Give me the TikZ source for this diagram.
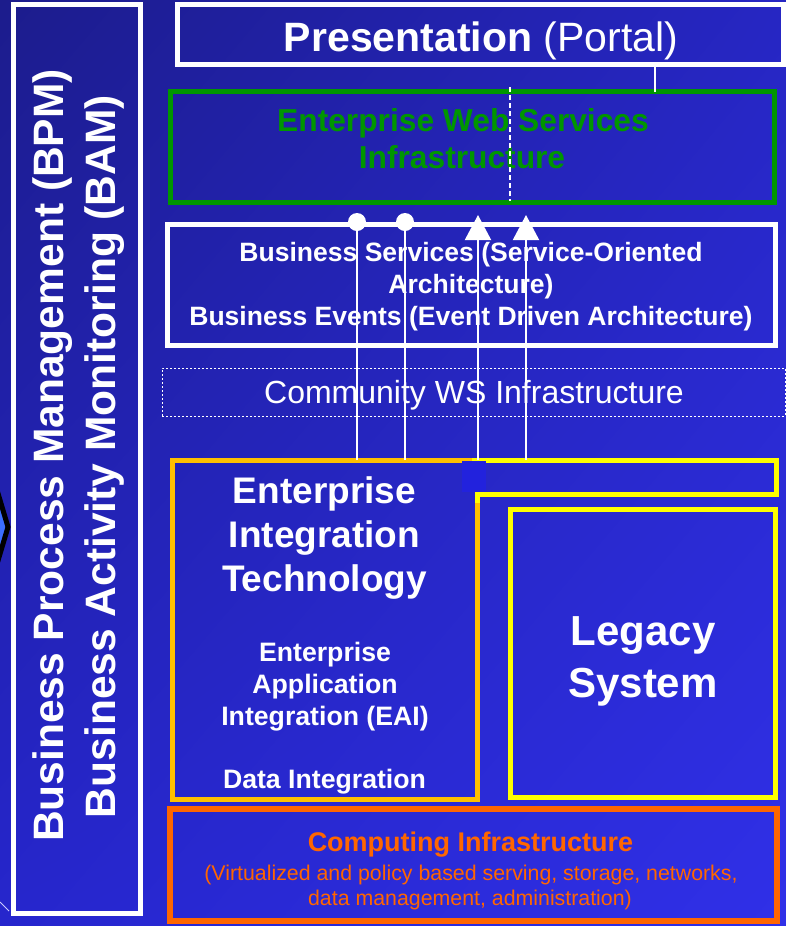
\documentclass[tikz,border=0pt]{standalone}
\usepackage{fontspec}
\setmainfont{Liberation Sans}
\usetikzlibrary{arrows.meta,shadings}
\definecolor{bgUL}{RGB}{28,28,140}
\definecolor{bgUR}{RGB}{38,38,195}
\definecolor{bgLL}{RGB}{38,38,205}
\definecolor{bgLR}{RGB}{48,48,232}
\definecolor{ewsgreen}{RGB}{0,150,0}
\definecolor{eitorange}{RGB}{255,192,0}
\definecolor{legyellow}{RGB}{255,255,0}
\definecolor{comporange}{RGB}{255,102,0}
\definecolor{sqblue}{RGB}{34,34,221}
\definecolor{chevblue}{RGB}{60,110,255}
\tikzset{
  bx/.style={rectangle, inner sep=0pt, outer sep=0pt, line width=3.75pt},
  txt/.style={anchor=base, inner sep=0pt, outer sep=0pt},
  conn/.style={draw=white, line width=1.5pt},
  dotn/.style={circle, fill=white, draw=none, minimum size=13.5pt, inner sep=0pt},
}
\begin{document}
\begin{tikzpicture}[x=0.75pt,y=-0.75pt]
% background
\shade[upper left=bgUL, upper right=bgUR, lower left=bgLL, lower right=bgLR] (0,0) rectangle (786,926);
\useasboundingbox (0,0) rectangle (786,926);

% partial chevron at the left edge
\draw[line width=3.75pt, fill=chevblue, line join=miter] (-30,490) -- (-3,490) -- (8,527) -- (-3,564) -- (-30,564) -- cycle;
\coordinate (dl1) at (0,902);
\coordinate (dl2) at (9,911);
\draw[white!80!blue, line width=0.75pt] (dl1) -- (dl2);

% boxes
\node[bx, draw=white, minimum width=95.25pt, minimum height=681.75pt] (bpm) at (76.5,458.5) {};
\node[bx, draw=white, minimum width=454.5pt, minimum height=45pt] (pres) at (480,34.5) {};
\node[bx, draw=ewsgreen, minimum width=453pt, minimum height=82.875pt] (ews) at (472,146.75) {};
\node[bx, draw=white, minimum width=456pt, minimum height=90.375pt] (bs) at (471,284.75) {};
\node[bx, draw=white, line width=0.75pt, dash pattern=on 1.5pt off 1.5pt, minimum width=467.25pt, minimum height=36pt] (comm) at (473.5,392) {};
\node[bx, minimum width=228.75pt, minimum height=254.25pt] (eit) at (324.5,629.5) {};
\node[bx, draw=legyellow, minimum width=198.75pt, minimum height=216pt] (leg) at (642.5,653.5) {};
\node[bx, draw=comporange, line width=4.5pt, minimum width=455.6pt, minimum height=84pt] (comp) at (473.25,865) {};

% EIT outline (L-shaped)
\draw[eitorange, line width=3.75pt, line join=miter] (172,460) -- (776,460) -- (776,494) -- (477,494) -- (477,799) -- (172,799) -- cycle;
\draw[legyellow, line width=3.75pt, line join=miter] (472,460) -- (776,460) -- (776,494) -- (477,494) -- (477,503);

% texts
\node[txt, text=white] (prest) at (481,51.5) {\fontsize{30.75}{36}\selectfont\bfseries Presentation \mdseries(Portal)};
\node[txt, text=ewsgreen] (ewst1) at (463,131.7) {\fontsize{23.8}{28}\selectfont\bfseries Enterprise Web Services};
\node[txt, text=ewsgreen] (ewst2) at (462,168) {\fontsize{23.8}{28}\selectfont\bfseries Infrastructure};
\node[txt, text=white] (bst1) at (471,261.7) {\fontsize{19.9}{24}\selectfont\bfseries Business Services (Service-Oriented};
\node[txt, text=white] (bst2) at (471,293) {\fontsize{19.9}{24}\selectfont\bfseries Architecture)};
\node[txt, text=white] (bst3) at (471,325) {\fontsize{19.9}{24}\selectfont\bfseries Business Events (Event Driven Architecture)};
\node[txt, text=white] (commt) at (474,403.3) {\fontsize{24}{28}\selectfont Community WS Infrastructure};
\node[txt, text=white] (eitt1) at (324.5,503) {\fontsize{27.75}{33}\selectfont\bfseries Enterprise};
\node[txt, text=white] (eitt2) at (324.5,547) {\fontsize{27.75}{33}\selectfont\bfseries Integration};
\node[txt, text=white] (eitt3) at (324.5,591) {\fontsize{27.75}{33}\selectfont\bfseries Technology};
\node[txt, text=white] (eait1) at (325,661) {\fontsize{20}{24}\selectfont\bfseries Enterprise};
\node[txt, text=white] (eait2) at (325,693) {\fontsize{20}{24}\selectfont\bfseries Application};
\node[txt, text=white] (eait3) at (325,725) {\fontsize{20}{24}\selectfont\bfseries Integration (EAI)};
\node[txt, text=white] (dit) at (324.5,788) {\fontsize{20}{24}\selectfont\bfseries Data Integration};
\node[txt, text=white] (legt1) at (643,645) {\fontsize{31.5}{38}\selectfont\bfseries Legacy};
\node[txt, text=white] (legt2) at (643,697) {\fontsize{31.5}{38}\selectfont\bfseries System};
\node[txt, text=comporange] (compt1) at (470.5,851) {\fontsize{20.25}{24}\selectfont\bfseries Computing Infrastructure};
\node[txt, text=comporange] (compt2) at (471,880) {\fontsize{16}{19}\selectfont (Virtualized and policy based serving, storage, networks,};
\node[txt, text=comporange] (compt3) at (470,905) {\fontsize{16}{19}\selectfont data management, administration)};
\node[txt, text=white, rotate=90] (bpmt1) at (63,455.5) {\fontsize{31.9}{38}\selectfont\bfseries Business Process Management (BPM)};
\node[txt, text=white, rotate=90] (bpmt2) at (115,456.5) {\fontsize{31.9}{38}\selectfont\bfseries Business Activity Monitoring (BAM)};

% connector presentation -> EWS
\coordinate (pl) at (655,0);
\draw[conn] (pl |- pres.south) -- (pl |- ews.north);
% dashed line in EWS
\coordinate (g1) at (510,87);
\coordinate (g2) at (510,201);
\draw[white, line width=1.2pt, dash pattern=on 3.5pt off 2.5pt] (g1) -- (g2);

% vertical connectors
\coordinate (s1) at (357,460);
\coordinate (s2) at (405,460);
\coordinate (s3) at (478,460);
\coordinate (s4) at (526,460);
\node[dotn] (d1) at (357,222) {};
\node[dotn] (d2) at (405,222) {};
\coordinate (a3) at (478,215);
\coordinate (a4) at (526,215);
\draw[conn] (s1) -- (d1.center);
\draw[conn] (s2) -- (d2.center);
\draw[conn, -{Triangle[width=19.5pt,length=18.75pt]}] (s3) -- (a3);
\draw[conn, -{Triangle[width=19.5pt,length=18.75pt]}] (s4) -- (a4);

% small blue square on the EIT border
\fill[sqblue] (462,461) rectangle (486,492);
\end{tikzpicture}
\end{document}
